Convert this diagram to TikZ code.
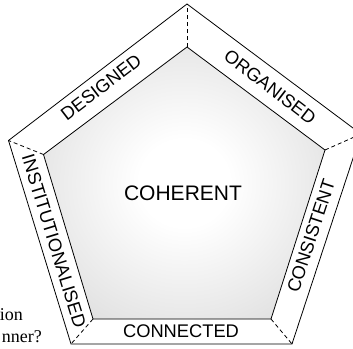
\documentclass[tikz,border=0pt]{standalone}
\usepackage{fontspec}
\setmainfont{Liberation Sans}
\newfontfamily\seriffont{Liberation Serif}
\pgfdeclareradialshading{coherentshade}{\pgfpoint{0bp}{0bp}}{color(0bp)=(white); color(8bp)=(white); color(45bp)=(black!20); color(60bp)=(black!22)}
\begin{document}
\begin{tikzpicture}[x=1pt,y=-1pt,
  edge/.style={line width=0.8pt, line join=miter},
  spoke/.style={line width=0.8pt, dash pattern=on 4pt off 3pt},
  bandlabel/.style={inner sep=0pt, font=\fontsize{18.3}{18}\selectfont},
  corelabel/.style={inner sep=0pt, font=\fontsize{21}{21}\selectfont},
  stray/.style={inner sep=0pt, anchor=base east, font=\seriffont\fontsize{18}{18}\selectfont}]
\useasboundingbox (0,0) rectangle (353,348);
\clip (0,0) rectangle (353,348);
% outer vertices
\coordinate (oT) at (187,4);
\coordinate (oR) at (361,134);
\coordinate (oBR) at (292,344);
\coordinate (oBL) at (71,344);
\coordinate (oL) at (8.5,140.5);
% inner vertices
\coordinate (iT) at (187,47);
\coordinate (iR) at (325,150);
\coordinate (iBR) at (271,319);
\coordinate (iBL) at (93,319);
\coordinate (iL) at (43.5,154.5);
% outer band
\draw[edge, fill=white] (oT) -- (oR) -- (oBR) -- (oBL) -- (oL) -- cycle;
% inner shaded pentagon
\shade[shading=coherentshade] (iT) -- (iR) -- (iBR) -- (iBL) -- (iL) -- cycle;
\draw[edge] (iT) -- (iR) -- (iBR) -- (iBL) -- (iL) -- cycle;
% dashed spokes
\draw[spoke] (iT) -- (oT);
\draw[spoke] (iR) -- (oR);
\draw[spoke] (iBR) -- (oBR);
\draw[spoke] (iBL) -- (oBL);
\draw[spoke] (iL) -- (oL);
% labels
\node[corelabel] (coh) at (183,193) {COHERENT};
\node[bandlabel, rotate=37.4] (des) at (101,87) {DESIGNED};
\node[bandlabel, rotate=-37.4] (org) at (270,87) {ORGANISED};
\node[bandlabel, rotate=71.8] (cons) at (311,236) {CONSISTENT};
\node[bandlabel] (conn) at (181,331.5) {CONNECTED};
\node[bandlabel, rotate=-72.9] (inst) at (54,241) {INSTITUTIONALISED};
% cropped text at left
\node[stray] (ion) at (23,320) {ion};
\node[stray] (nner) at (42,342) {nner?};
\end{tikzpicture}
\end{document}
